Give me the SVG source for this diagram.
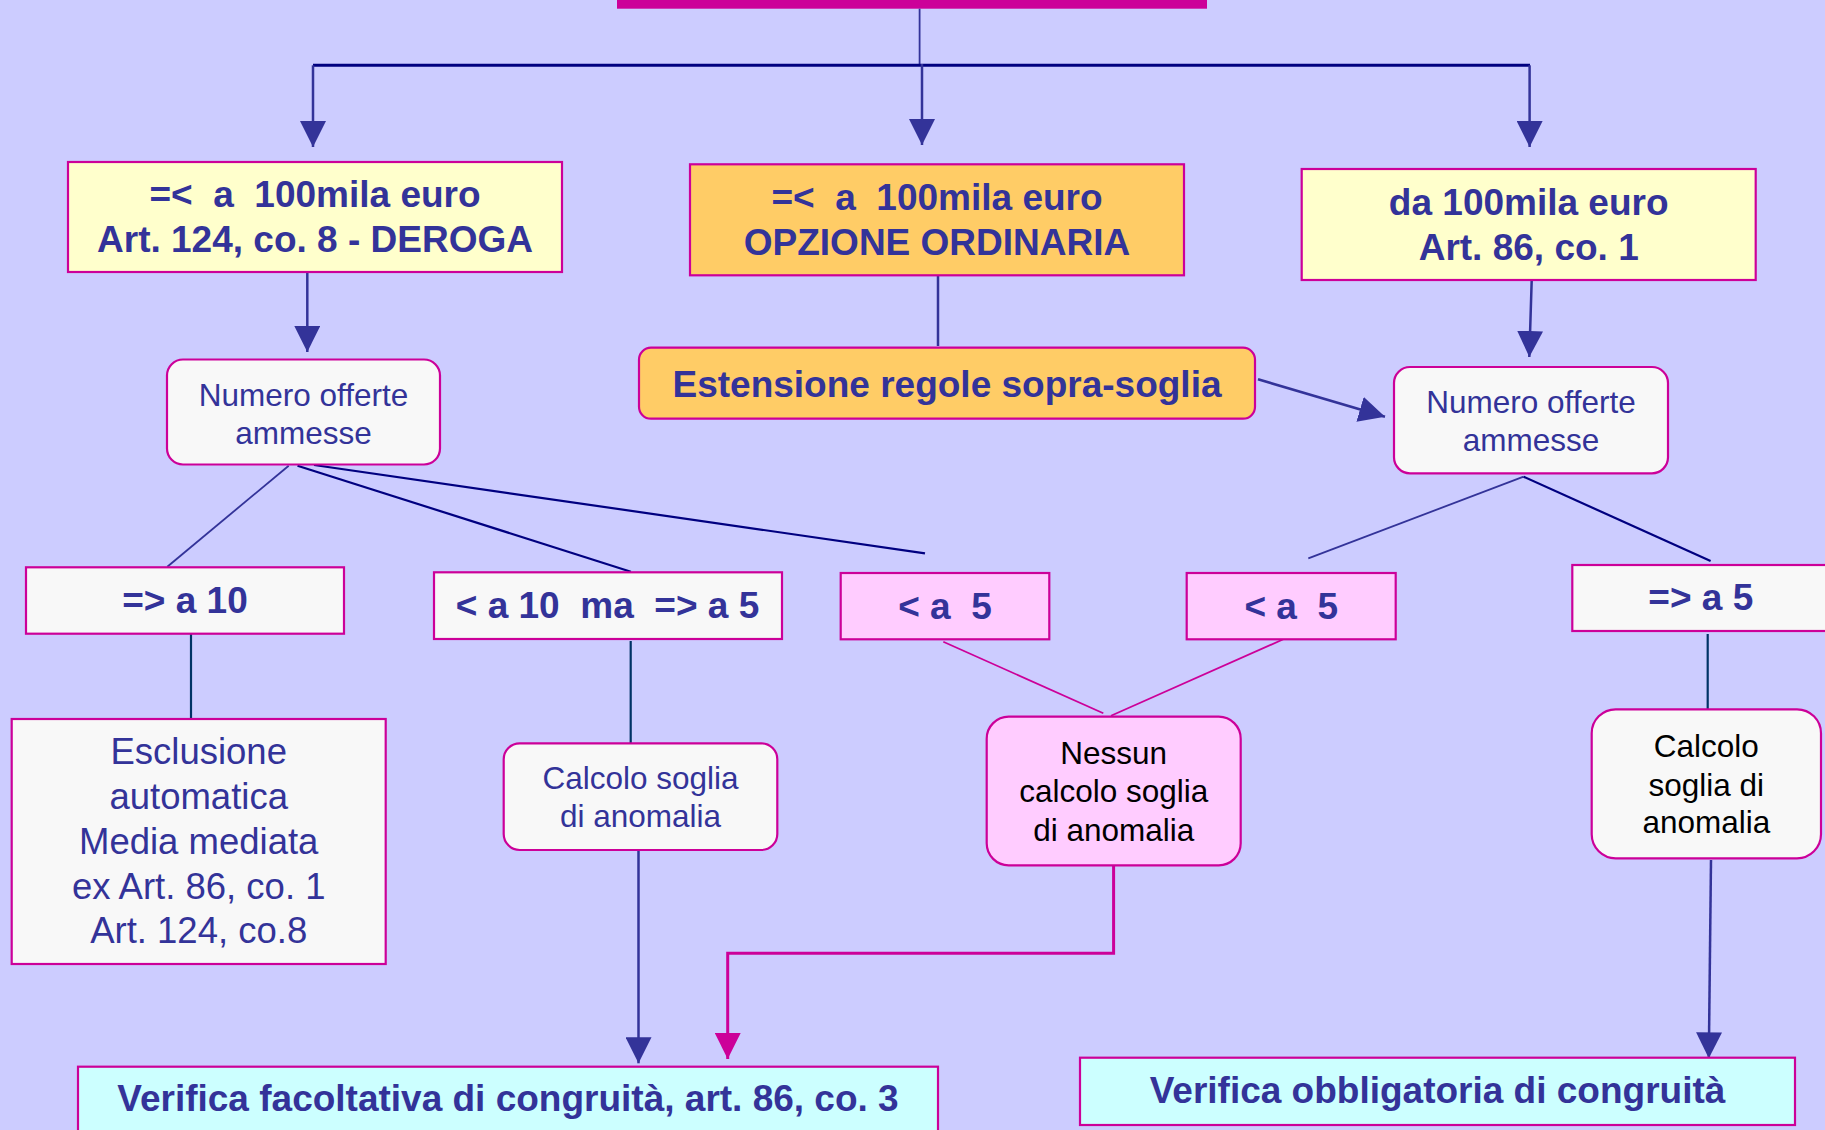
<svg xmlns="http://www.w3.org/2000/svg" width="1825" height="1130" viewBox="0 0 1825 1130">
<style>
.bx{stroke:#CC0099;stroke-width:2.2}
.y{fill:#FFFFCC}.o{fill:#FFCC66}.w{fill:#F8F8F8}.p{fill:#FFCCFF}.c{fill:#CCFFFF}
text{font-family:"Liberation Sans",Arial,sans-serif;text-anchor:middle}
.b{font-weight:bold;font-size:37px;fill:#333399}
.r{font-size:31.5px;fill:#333399}
.k{font-size:31.5px;fill:#000000}
.e{font-size:36.5px;fill:#333399}
.ar{fill:none;stroke:#333399;stroke-width:2.5}
.ln{fill:none;stroke:#333399;stroke-width:1.8}
.nv{fill:none;stroke:#000080;stroke-width:2.2}
.dk{fill:none;stroke:#003366;stroke-width:2.2}
.mg{fill:none;stroke:#CC0099;stroke-width:1.8}
</style>
<defs>
<marker id="ah" markerUnits="userSpaceOnUse" markerWidth="26" markerHeight="26" refX="26" refY="13" orient="auto"><path d="M0,0 L26,13 L0,26 z" fill="#333399"/></marker>
<marker id="am" markerUnits="userSpaceOnUse" markerWidth="26" markerHeight="26" refX="26" refY="13" orient="auto"><path d="M0,0 L26,13 L0,26 z" fill="#CC0099"/></marker>
</defs>
<rect width="1825" height="1130" fill="#CCCCFF"/>
<rect id="topbar" x="617" y="-10" width="590" height="18.7" fill="#CC0099"/>

<g id="connectors">
<path class="ln" d="M919.6,8.7 V65.3"/>
<path d="M313,65.3 H1530" stroke="#000080" stroke-width="3" fill="none"/>
<path class="ar" d="M313,65.3 V147" marker-end="url(#ah)"/>
<path class="ar" d="M922,64 V145" marker-end="url(#ah)"/>
<path class="ar" d="M1529.6,65.3 V147" marker-end="url(#ah)"/>
<path class="ar" d="M307.3,272 V352" marker-end="url(#ah)"/>
<path class="ar" d="M1531.7,280 L1529.3,357" marker-end="url(#ah)"/>
<path class="ar" d="M938,275 V346"/>
<path class="ar" d="M1258,379.3 L1385,416.7" marker-end="url(#ah)"/>
<path class="ln" d="M288.7,465.7 L167.3,566.7"/>
<path class="nv" d="M297.5,465.7 L630.9,571.7"/>
<path class="nv" d="M314,465 L925,553.3"/>
<path class="ln" d="M1523.6,476.7 L1308.3,558.3"/>
<path class="nv" d="M1523.6,476.7 L1710.6,561"/>
<path class="dk" d="M191,634 V722"/>
<path class="dk" d="M630.7,641 V743"/>
<path class="dk" d="M1707.7,634 V712"/>
<path class="mg" d="M943.3,641.7 L1103.3,713.3"/>
<path class="mg" d="M1283.3,639.3 L1111,715.7"/>
<path class="ar" d="M638.5,850 V1063.3" marker-end="url(#ah)"/>
<path d="M1113.6,865 V953.3 H727.7 V1059" fill="none" stroke="#CC0099" stroke-width="3" marker-end="url(#am)"/>
<path class="ar" d="M1711,860 L1708.8,1058.3" marker-end="url(#ah)"/>
</g>

<g id="n-deroga">
<rect class="bx y" x="68" y="162" width="494" height="110"/>
<text class="b" x="315" y="207.3" xml:space="preserve">=&lt;  a  100mila euro</text>
<text class="b" x="315" y="251.7">Art. 124, co. 8 - DEROGA</text>
</g>
<g id="n-ordinaria">
<rect class="bx o" x="690" y="164.3" width="494" height="111"/>
<text class="b" x="937" y="210" xml:space="preserve">=&lt;  a  100mila euro</text>
<text class="b" x="937" y="255">OPZIONE ORDINARIA</text>
</g>
<g id="n-da100">
<rect class="bx y" x="1301.7" y="169" width="454" height="111"/>
<text class="b" x="1528.7" y="215">da 100mila euro</text>
<text class="b" x="1528.7" y="260">Art. 86, co. 1</text>
</g>
<g id="n-estensione">
<rect class="bx o" x="639" y="347.7" width="616" height="71" rx="12"/>
<text class="b" x="947" y="397.3">Estensione regole sopra-soglia</text>
</g>
<g id="n-numero-left">
<rect class="bx w" x="167" y="359.5" width="273" height="105" rx="16"/>
<text class="r" x="303.5" y="405.5">Numero offerte</text>
<text class="r" x="303.5" y="443.5">ammesse</text>
</g>
<g id="n-numero-right">
<rect class="bx w" x="1394" y="367" width="274" height="106.3" rx="16"/>
<text class="r" x="1531" y="413.3">Numero offerte</text>
<text class="r" x="1531" y="451">ammesse</text>
</g>
<g id="n-ge10">
<rect class="bx w" x="26" y="567.3" width="318" height="66.4"/>
<text class="b" x="185" y="612.7">=&gt; a 10</text>
</g>
<g id="n-lt10">
<rect class="bx w" x="434" y="572.3" width="348" height="66.7"/>
<text class="b" x="607.5" y="618.3" xml:space="preserve">&lt; a 10  ma  =&gt; a 5</text>
</g>
<g id="n-lt5-left">
<rect class="bx p" x="840.7" y="573" width="208.6" height="66.3"/>
<text class="b" x="945" y="619.3" xml:space="preserve">&lt; a  5</text>
</g>
<g id="n-lt5-right">
<rect class="bx p" x="1186.7" y="573" width="209" height="66.3"/>
<text class="b" x="1291.2" y="619.3" xml:space="preserve">&lt; a  5</text>
</g>
<g id="n-ge5">
<rect class="bx w" x="1572.3" y="565" width="270" height="66"/>
<text class="b" x="1700.8" y="610">=&gt; a 5</text>
</g>
<g id="n-esclusione">
<rect class="bx w" x="11.7" y="719" width="374" height="245"/>
<text class="e" x="198.7" y="764">Esclusione</text>
<text class="e" x="198.7" y="809.3">automatica</text>
<text class="e" x="198.7" y="854">Media mediata</text>
<text class="e" x="198.7" y="898.7">ex Art. 86, co. 1</text>
<text class="e" x="198.7" y="943.3">Art. 124, co.8</text>
</g>
<g id="n-calcolo-left">
<rect class="bx w" x="503.7" y="743.3" width="273.6" height="106.7" rx="16"/>
<text class="r" x="640.5" y="788.7">Calcolo soglia</text>
<text class="r" x="640.5" y="826.7">di anomalia</text>
</g>
<g id="n-nessun">
<rect class="bx p" x="986.7" y="716.7" width="254" height="148.6" rx="22"/>
<text class="k" x="1113.7" y="764.3">Nessun</text>
<text class="k" x="1113.7" y="801.7">calcolo soglia</text>
<text class="k" x="1113.7" y="840.7">di anomalia</text>
</g>
<g id="n-calcolo-right">
<rect class="bx w" x="1591.7" y="709.3" width="229.3" height="149" rx="24"/>
<text class="k" x="1706.3" y="756.7">Calcolo</text>
<text class="k" x="1706.3" y="795.7">soglia di</text>
<text class="k" x="1706.3" y="833.3">anomalia</text>
</g>
<g id="n-facoltativa">
<rect class="bx c" x="78" y="1066.7" width="860" height="80"/>
<text class="b" x="508" y="1111">Verifica facoltativa di congruità, art. 86, co. 3</text>
</g>
<g id="n-obbligatoria">
<rect class="bx c" x="1080" y="1057.7" width="715" height="67.3"/>
<text class="b" x="1437.5" y="1103.3">Verifica obbligatoria di congruità</text>
</g>
</svg>
